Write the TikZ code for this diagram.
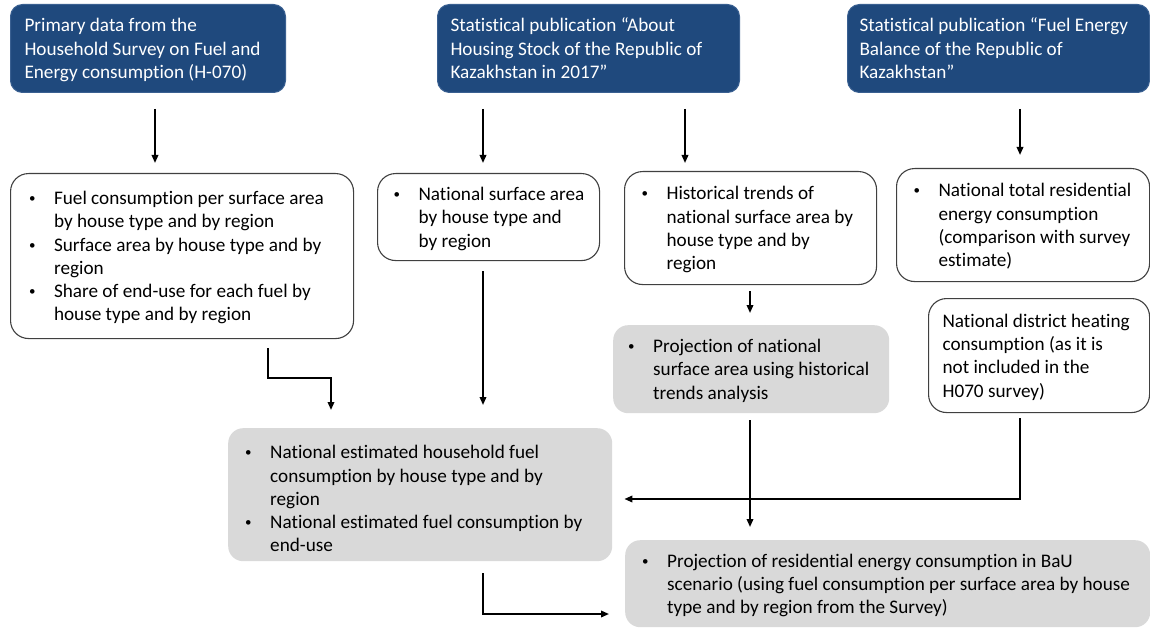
\documentclass[tikz,border=0pt]{standalone}
\usepackage{fontspec}
\setmainfont{Carlito}[Ligatures={CommonOff,ContextualOff,RareOff}, Contextuals=AlternateOff]
\usetikzlibrary{arrows.meta}
\definecolor{navy}{RGB}{31,73,125}
\definecolor{navyedge}{RGB}{58,96,145}
\definecolor{boxgray}{RGB}{217,217,217}
\definecolor{edgegray}{RGB}{64,64,64}
\newcommand{\boxtext}[4][2pt]{\makebox[#2][l]{\hspace*{#3}\raisebox{-#1}[\height][\depth]{#4}}}
\newcommand{\bl}[1]{\begin{tabular}{@{}l@{}l@{}}#1\end{tabular}}
\newcommand{\bu}{\makebox[25pt][l]{\raisebox{1.8pt}{\fontsize{13}{13}\selectfont\textbullet}}}
\newcommand{\pl}[1]{\begin{tabular}{@{}l@{}}#1\end{tabular}}
\begin{document}
\begin{tikzpicture}[x=1pt,y=-1pt,
  every node/.style={font=\fontsize{19.2}{23.3}\selectfont, inner sep=0pt, anchor=north west},
  bluebox/.style={fill=navy, draw=navyedge, line width=1pt, rounded corners=12pt, text=white},
  whitebox/.style={fill=white, draw=edgegray, line width=1.1pt, rounded corners=18pt},
  graybox/.style={fill=boxgray, rounded corners=15pt},
  arr/.style={line width=1.8pt, -{Triangle[length=8pt,width=6.5pt]}}]
\useasboundingbox (0,0) rectangle (1150,628);

% top sources
\node[bluebox, minimum width=275pt, minimum height=88pt] (b1) at (10,4)
  {\boxtext{275pt}{14pt}{\pl{Primary data from the\\Household Survey on Fuel and\\Energy consumption (H-070)}}};
\node[bluebox, minimum width=302pt, minimum height=88pt] (b2) at (437,4)
  {\boxtext{302pt}{13pt}{\pl{Statistical publication “About\\Housing Stock of the Republic of\\Kazakhstan in 2017”}}};
\node[bluebox, minimum width=302pt, minimum height=88pt] (b3) at (847,4)
  {\boxtext{302pt}{12pt}{\pl{Statistical publication “Fuel Energy\\Balance of the Republic of\\Kazakhstan”}}};

% second row
\node[whitebox, minimum width=343pt, minimum height=165pt] (A) at (10,173)
  {\boxtext{343pt}{18.5pt}{\bl{\bu&Fuel consumption per surface area\\&by house type and by region\\\bu&Surface area by house type and by\\&region\\\bu&Share of end-use for each fuel by\\&house type and by region}}};
\node[whitebox, minimum width=222pt, minimum height=87pt] (B) at (377,173)
  {\boxtext{222pt}{16pt}{\bl{\bu&National surface area\\&by house type and\\&by region}}};
\node[whitebox, minimum width=252pt, minimum height=113pt] (C) at (624,171)
  {\boxtext{252pt}{17pt}{\bl{\bu&Historical trends of\\&national surface area by\\&house type and by\\&region}}};
\node[whitebox, minimum width=253pt, minimum height=113pt] (D) at (896,168)
  {\boxtext{253pt}{17pt}{\bl{\bu&National total residential\\&energy consumption\\&(comparison with survey\\&estimate)}}};

% third row
\node[whitebox, minimum width=221pt, minimum height=114pt] (E) at (928,298)
  {\boxtext{221pt}{14pt}{\pl{National district heating\\consumption (as it is\\not included in the\\H070 survey)}}};
\node[graybox, minimum width=276pt, minimum height=88pt] (F) at (613,325)
  {\boxtext{276pt}{15pt}{\bl{\bu&Projection of national\\&surface area using historical\\&trends analysis}}};

% results
\node[graybox, minimum width=384pt, minimum height=133pt] (G) at (228,428)
  {\boxtext[6pt]{384pt}{17pt}{\bl{\bu&National estimated household fuel\\&consumption by house type and by\\&region\\\bu&National estimated fuel consumption by\\&end-use}}};
\node[graybox, minimum width=525pt, minimum height=87pt] (H) at (625,540)
  {\boxtext{525pt}{17pt}{\bl{\bu&Projection of residential energy consumption in BaU\\&scenario (using fuel consumption per surface area by house\\&type and by region from the Survey)}}};

% helper coordinates
\coordinate (c155) at (155,0);
\coordinate (c483) at (483,0);
\coordinate (c685) at (685,0);
\coordinate (c1020) at (1020,0);
\coordinate (c750) at (750,0);
\coordinate (c268) at (268,0);
\coordinate (jA) at (331,378);
\coordinate (jE) at (1020,499);
\coordinate (jG) at (483,614);

% connectors
\draw[arr, shorten <=16pt, shorten >=10pt] (b1.south -| c155) -- (A.north -| c155);
\draw[arr, shorten <=16pt, shorten >=10pt] (b2.south -| c483) -- (B.north -| c483);
\draw[arr, shorten <=16pt, shorten >=8pt] (b2.south -| c685) -- (C.north -| c685);
\draw[arr, shorten <=16pt, shorten >=13pt] (b3.south -| c1020) -- (D.north -| c1020);
\draw[arr, shorten <=6pt, shorten >=12pt] (C.south -| c750) -- (F.north -| c750);
\draw[arr, shorten <=10pt, shorten >=23pt] (B.south -| c483) -- (G.north -| c483);
\draw[arr, shorten <=9pt, shorten >=18pt] (A.south -| c268) |- (jA) -- (G.north -| jA);
\draw[arr, shorten <=7pt, shorten >=13pt] (F.south -| c750) -- (H.north -| c750);
\draw[arr, shorten <=5pt, shorten >=12pt] (E.south -| jE) -- (jE) -- (G.east |- jE);
\draw[arr, shorten <=12pt, shorten >=16pt] (G.south -| jG) -- (jG) -- (H.west |- jG);
\end{tikzpicture}
\end{document}
